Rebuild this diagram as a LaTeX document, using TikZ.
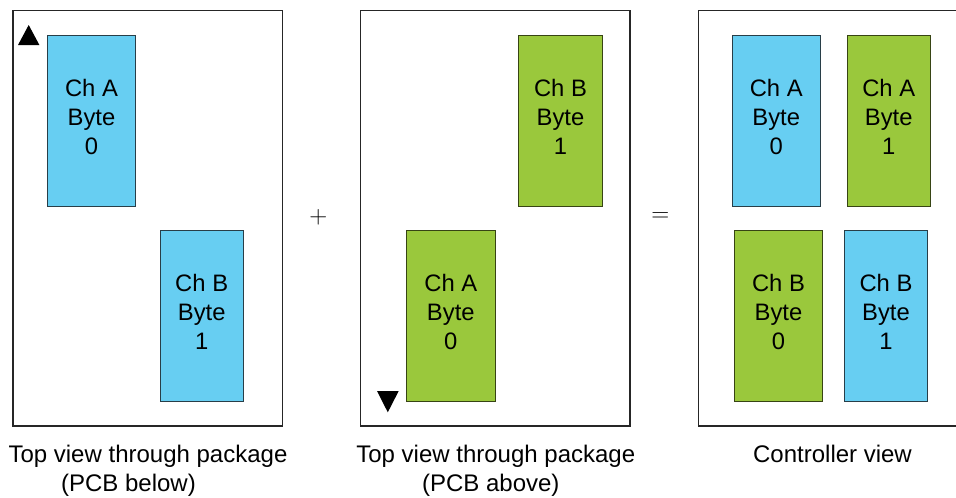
\documentclass[tikz,border=0pt]{standalone}
\usepackage{fontspec}
\setmainfont{Liberation Sans}
\definecolor{byteblue}{RGB}{103,206,242}
\definecolor{bytegreen}{RGB}{154,200,60}
\definecolor{blueedge}{RGB}{40,62,72}
\definecolor{greenedge}{RGB}{55,68,20}
\begin{document}
\begin{tikzpicture}[x=1pt,y=-1pt,
  panel/.style={draw=black!85,line width=1.1pt,fill=white,inner sep=0pt},
  blk/.style={inner sep=0pt,line width=0.9pt},
  bluebyte/.style={blk,fill=byteblue,draw=blueedge},
  greenbyte/.style={blk,fill=bytegreen,draw=greenedge},
  wide/.style={minimum width=88.4pt,minimum height=171pt},
  narrow/.style={minimum width=83.3pt,minimum height=171pt},
  bytetext/.style={align=center,inner sep=0pt,font=\fontsize{23.8}{29}\selectfont},
  caption/.style={anchor=base,inner sep=0pt,font=\fontsize{24}{29}\selectfont},
  oper/.style={inner sep=0pt,font=\fontsize{28}{28}\selectfont},
  orient/.style={fill=black}]
\useasboundingbox (0,0) rectangle (956,498);

% the three package outlines
\node[panel,minimum width=269.7pt,minimum height=415.5pt] (p1) at (147.85,218.25) {};
\node[panel,minimum width=269.3pt,minimum height=415.5pt] (p2) at (495.35,218.25) {};
\node[panel,minimum width=262pt,minimum height=415.5pt,anchor=west] (p3) at (697.7,218.25) {};

% top view, PCB below
\node[bluebyte,wide] (a1) at (91.5,120.5) {};
\node[bytetext] at ([yshift=3.5pt]a1.center) {Ch A\\Byte\\0};
\node[bluebyte,narrow] (b1) at (201.7,316.2) {};
\node[bytetext] at ([yshift=4pt]b1.center) {Ch B\\Byte\\1};
\fill[orient] (18,45) -- (28.7,25) -- (39.4,45) -- cycle;

% top view, PCB above
\node[greenbyte,narrow] (b2) at (560.5,120.5) {};
\node[bytetext] at ([yshift=3.5pt]b2.center) {Ch B\\Byte\\1};
\node[greenbyte,wide] (a2) at (450.8,316.2) {};
\node[bytetext] at ([yshift=4pt]a2.center) {Ch A\\Byte\\0};
\fill[orient] (377,391) -- (398.7,391) -- (387.8,412.3) -- cycle;

% controller view
\node[bluebyte,wide] (ca0) at (776.2,120.5) {};
\node[bytetext] at ([yshift=3.5pt]ca0.center) {Ch A\\Byte\\0};
\node[greenbyte,narrow] (ca1) at (888.7,120.5) {};
\node[bytetext] at ([yshift=3.5pt]ca1.center) {Ch A\\Byte\\1};
\node[greenbyte,wide] (cb0) at (778.5,316.2) {};
\node[bytetext] at ([yshift=4pt]cb0.center) {Ch B\\Byte\\0};
\node[bluebyte,narrow] (cb1) at (886,316.2) {};
\node[bytetext] at ([yshift=4pt]cb1.center) {Ch B\\Byte\\1};

% operators between the views
\node[oper] (plus) at (318.3,217.3) {$+$};
\node[oper] (eq) at (660.3,216.8) {$=$};

% captions
\node[caption] (c1a) at (148,462.7) {Top view through package};
\node[caption] (c1b) at (128.5,491.5) {(PCB below)};
\node[caption] (c2a) at (495.8,462.7) {Top view through package};
\node[caption] (c2b) at (490.8,491.5) {(PCB above)};
\node[caption] (c3) at (832.5,462.7) {Controller view};
\end{tikzpicture}
\end{document}
